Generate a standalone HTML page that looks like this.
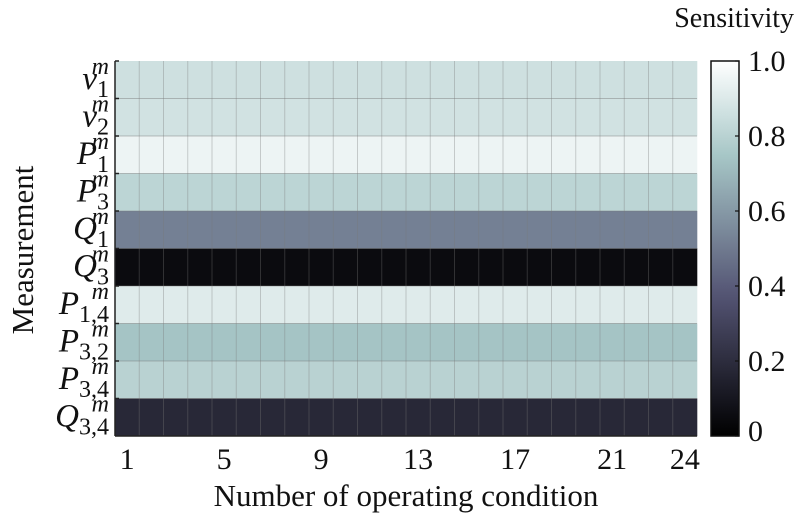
<!DOCTYPE html>
<html><head><meta charset="utf-8"><style>
body{margin:0;background:#fff;}
svg, svg text, svg tspan{font-family:"Liberation Serif","DejaVu Serif",serif !important;}
svg text{fill:#111;}
</style></head><body>
<svg id="chart" width="796" height="518" viewBox="0 0 796 518" xmlns="http://www.w3.org/2000/svg" font-family="Liberation Serif, serif">
<defs><linearGradient id="cbg" x1="0" y1="1" x2="0" y2="0"></linearGradient></defs>
<g id="cells"></g><g id="grid"></g><g id="axes"></g>
</svg>
<script>
const rowLabels=[["v","1"],["v","2"],["P","1"],["P","3"],["Q","1"],["Q","3"],["P","1,4"],["P","3,2"],["P","3,4"],["Q","3,4"]];
const xTicks=[1,5,9,13,17,21,24];
const cbTicks=["0","0.2","0.4","0.6","0.8","1.0"];
const rowV1=[.86,.86,.86,.86,.86,.86,.86,.86,.86,.86,.86,.86,.86,.86,.86,.86,.86,.86,.86,.86,.86,.86,.86,.86];
const rowV2=[.87,.87,.87,.87,.87,.87,.87,.87,.87,.87,.87,.87,.87,.87,.87,.87,.87,.87,.87,.87,.87,.87,.87,.87];
const rowP1=[.95,.95,.95,.95,.95,.95,.95,.95,.95,.95,.95,.95,.95,.95,.95,.95,.95,.95,.95,.95,.95,.95,.95,.95];
const rowP3=[.81,.81,.81,.81,.81,.81,.81,.81,.81,.81,.81,.81,.81,.81,.81,.81,.81,.81,.81,.81,.81,.81,.81,.81];
const rowQ1=[.52,.52,.52,.52,.52,.52,.52,.52,.52,.52,.52,.52,.52,.52,.52,.52,.52,.52,.52,.52,.52,.52,.52,.52];
const rowQ3=[.05,.05,.05,.05,.05,.05,.05,.05,.05,.05,.05,.05,.05,.05,.05,.05,.05,.05,.05,.05,.05,.05,.05,.05];
const rowP14=[.91,.91,.91,.91,.91,.91,.91,.91,.91,.91,.91,.91,.91,.91,.91,.91,.91,.91,.91,.91,.91,.91,.91,.91];
const rowP32=[.74,.74,.74,.74,.74,.74,.74,.74,.74,.74,.74,.74,.74,.74,.74,.74,.74,.74,.74,.74,.74,.74,.74,.74];
const rowP34=[.80,.80,.80,.80,.80,.80,.80,.80,.80,.80,.80,.80,.80,.80,.80,.80,.80,.80,.80,.80,.80,.80,.80,.80];
const rowQ34=[.18,.18,.18,.18,.18,.18,.18,.18,.18,.18,.18,.18,.18,.18,.18,.18,.18,.18,.18,.18,.18,.18,.18,.18];
const values=[rowV1,rowV2,rowP1,rowP3,rowQ1,rowQ3,rowP14,rowP32,rowP34,rowQ34];

const NS="http://www.w3.org/2000/svg";
const L=115,R=697,T=61,B=436;
const nC=24,nR=10,cw=(R-L)/nC,rh=(B-T)/nR;
const xs=i=>L+i*cw, ys=j=>T+j*rh;
const cl=v=>Math.max(0,Math.min(1,v));
function bone(x){const hr=cl(x/0.375),hg=cl((x-0.375)/0.375),hb=cl((x-0.75)/0.25);
 const r=(7*x+hb)/8,g=(7*x+hg)/8,b=(7*x+hr)/8;
 return `rgb(${Math.round(r*255)},${Math.round(g*255)},${Math.round(b*255)})`;}
function mk(tag,attrs,parent){const e=document.createElementNS(NS,tag);for(const k in attrs)e.setAttribute(k,attrs[k]);parent.appendChild(e);return e;}
const cells=document.getElementById('cells'),grid=document.getElementById('grid'),axes=document.getElementById('axes');
const FF="Liberation Serif, DejaVu Serif, serif";
values.forEach((row,j)=>row.forEach((v,i)=>{
 const r=mk('rect',{x:xs(i),y:ys(j),width:cw+0.3,height:rh+0.3,fill:bone(v)},cells);
 
 
}));
for(let i=1;i<nC;i++){const l=mk('line',{x1:xs(i),x2:xs(i),y1:T,y2:B,stroke:'rgba(120,120,120,0.35)','stroke-width':1},grid);
 }
for(let j=1;j<nR;j++){const l=mk('line',{x1:L,x2:R,y1:ys(j),y2:ys(j),stroke:'rgba(120,120,120,0.45)','stroke-width':1},grid);
 }
let ax=mk('line',{x1:L,x2:L,y1:T,y2:B,stroke:'#222','stroke-width':1.5},axes);

ax=mk('line',{x1:L,x2:R,y1:B,y2:B,stroke:'#222','stroke-width':1.5},axes);

rowLabels.forEach((lb,j)=>{
 const tk=mk('line',{x1:L,x2:L+4,y1:ys(j),y2:ys(j),stroke:'#222','stroke-width':1.5},axes);
 
 const yc=ys(j)+rh/2;
 const sub=lb[1];
 const subW=sub.length*10;
 const t=mk('text',{x:L-6,y:yc+9,'text-anchor':'end','font-size':33,'font-style':'italic','font-family':FF},axes);
 
 const a=document.createElementNS(NS,'tspan');a.textContent=lb[0];t.appendChild(a);
 const s=document.createElementNS(NS,'tspan');s.textContent=sub;s.setAttribute('font-size',24);s.setAttribute('font-style','normal');s.setAttribute('dy',8);t.appendChild(s);
 const m=mk('text',{x:L-6,y:yc-6,'text-anchor':'end','font-size':24,'font-style':'italic','font-family':FF},axes);
 m.textContent='m';
});
xTicks.forEach(v=>{
 const x=xs(v-0.5);
 const t=mk('text',{x:x,y:469,'text-anchor':'middle','font-size':30,'font-family':FF},axes);t.textContent=v;
 
});
let t=mk('text',{x:406,y:506,'text-anchor':'middle','font-size':31,'font-family':FF},axes);t.textContent='Number of operating condition';

t=mk('text',{x:0,y:0,'text-anchor':'middle','font-size':31,'font-family':FF,transform:'translate(33,250) rotate(-90)'},axes);t.textContent='Measurement';

const g=document.getElementById('cbg');
for(let k=0;k<=20;k++){const st=mk('stop',{offset:k/20,'stop-color':bone(k/20)},g);
 }
const cbL=711,cbR=739;
const cb=mk('rect',{x:cbL,y:T,width:cbR-cbL,height:B-T,fill:'url(#cbg)',stroke:'#111','stroke-width':1.5},axes);

cbTicks.forEach((lab,k)=>{
 const y=B-(k/(cbTicks.length-1))*(B-T);
 const tk=mk('line',{x1:cbR-4,x2:cbR,y1:y,y2:y,stroke:'#111','stroke-width':1.2},axes);
 
 const tt=mk('text',{x:748,y:Math.min(y+10,441),'font-size':30,'font-family':FF},axes);tt.textContent=lab;
 
});
t=mk('text',{x:794,y:27,'text-anchor':'end','font-size':28,'font-family':FF},axes);t.textContent='Sensitivity';

</script>
</body></html>
